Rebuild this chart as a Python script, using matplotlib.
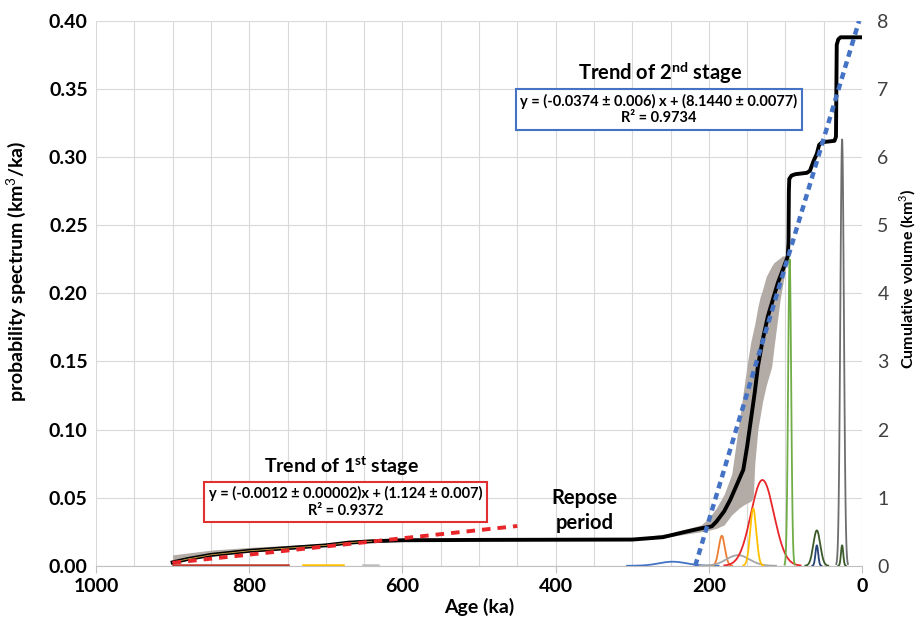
import numpy as np
import matplotlib
matplotlib.use("Agg")
import matplotlib.pyplot as plt

plt.rcParams['font.family'] = ['Lato', 'DejaVu Sans']
plt.rcParams['mathtext.fontset'] = 'custom'
plt.rcParams['mathtext.rm'] = 'Lato'
plt.rcParams['mathtext.bf'] = 'Lato:bold'

# cumulative volume curve (age ka, km3)
cum_age = [900, 880, 850, 800, 750, 700, 670, 640, 600, 500, 300, 260, 230, 210,
           200, 196, 190, 180, 172, 165, 160, 155, 150, 145, 140, 136, 130, 123,
           110, 100, 97, 96, 95.5, 95, 92, 87, 72, 68, 63, 59, 56, 52, 36, 34,
           33.5, 33, 31, 28, 0]
cum_vol = [0.05, 0.10, 0.16, 0.22, 0.26, 0.30, 0.34, 0.36, 0.375, 0.38, 0.385,
           0.42, 0.50, 0.55, 0.57, 0.58, 0.65, 0.80, 0.97, 1.15, 1.28, 1.41, 1.75,
           2.15, 2.55, 2.92, 3.30, 3.66, 4.15, 4.45, 4.54, 4.75, 5.5, 5.68, 5.73,
           5.75, 5.77, 5.80, 5.95, 6.05, 6.18, 6.22, 6.24, 6.30, 7.0, 7.65, 7.73,
           7.76, 7.76]

# uncertainty envelope of the cumulative curve
band_age = [900, 850, 800, 750, 700, 650, 620, 500, 300, 250, 210, 200, 190, 180,
            170, 165, 160, 155, 150, 145, 142, 140, 136, 133, 130, 125, 118, 115,
            107, 104, 100, 99]
band_hi = [0.16, 0.23, 0.27, 0.30, 0.33, 0.37, 0.38, 0.385, 0.40, 0.48, 0.60,
           0.70, 0.85, 1.05, 1.35, 1.75, 2.15, 2.55, 2.95, 3.30, 3.45, 3.55, 3.80,
           3.95, 4.05, 4.25, 4.40, 4.45, 4.52, 4.55, 4.55, 4.55]
band_lo = [0.04, 0.14, 0.20, 0.24, 0.29, 0.35, 0.37, 0.375, 0.38, 0.43, 0.50,
           0.52, 0.55, 0.60, 0.75, 0.80, 0.85, 0.89, 0.92, 0.95, 1.00, 1.50, 2.00,
           2.20, 2.40, 2.65, 2.92, 3.20, 3.90, 4.10, 4.35, 4.50]

# probability spectrum components (centre ka, height km3/ka, width ka)
pk_center = [247, 183, 162, 130, 142, 94.5, 59, 59, 26, 26]
pk_height = [0.003, 0.022, 0.0078, 0.063, 0.042, 0.225, 0.026, 0.015, 0.313, 0.015]
pk_width = [18, 4, 15, 15, 4, 2.0, 4.5, 1.8, 2.3, 1.5]
pk_color = ['#4472c4', '#ed7d31', '#a5a5a5', '#e8262a', '#ffc000', '#70ad47',
            '#3b5a2a', '#264478', '#6e6e6e', '#3b5a2a']

# near-zero components of the 1st stage (start ka, end ka)
flat_start = [900, 730, 652]
flat_end = [750, 677, 632]
flat_color = ['#c0392b', '#ffc000', '#bfbfbf']

# linear fits (km3 = a * age + b)
fit1_a, fit1_b = -0.0012, 1.124
fit1_age = [900, 450]
fit2_a, fit2_b = -0.0374, 8.1440

fig = plt.figure(figsize=(9.19, 6.35), dpi=100)
ax = fig.add_axes([0.1045, 0.109, 0.8335, 0.858])
ax.set_xlim(1000, 0)
ax.set_ylim(0, 0.40)

ax.set_xticks(np.arange(0, 1001, 200))
ax.set_xticks(np.arange(0, 1001, 50), minor=True)
ax.set_yticks(np.arange(0, 0.401, 0.05))
ax.grid(which='both', axis='x', color='#d9d9d9', lw=0.8)
ax.grid(which='major', axis='y', color='#d9d9d9', lw=0.8)
ax.set_axisbelow(True)
for s in ['top', 'right', 'left']:
    ax.spines[s].set_visible(False)
ax.spines['bottom'].set_color('#bfbfbf')
ax.tick_params(axis='x', which='major', length=5, color='#bfbfbf', pad=4,
               labelsize=14)
ax.tick_params(axis='x', which='minor', length=0)
ax.tick_params(axis='y', length=0, labelsize=14, pad=6)
ax.set_yticklabels(['%.2f' % v for v in np.arange(0, 0.401, 0.05)])
for lab in ax.get_xticklabels() + ax.get_yticklabels():
    lab.set_fontweight('bold')
ax.set_xlabel('Age (ka)', fontsize=14, fontweight='bold', labelpad=2)
ax.set_ylabel('probability spectrum (km$^3$/ka)', fontsize=14,
              fontweight='bold')
ax.yaxis.set_label_coords(-0.089, 0.54)

t = np.linspace(0, 1000, 8001)
for c, h, w, col in zip(pk_center, pk_height, pk_width, pk_color):
    y = h * np.exp(-0.5 * ((t - c) / w) ** 2)
    m = y > h * 0.004
    ax.plot(t[m], y[m], color=col, lw=1.3, zorder=3)
for a0, a1, col in zip(flat_start, flat_end, flat_color):
    ax.plot([a0, a1], [0.0006, 0.0006], color=col, lw=1.8, zorder=3)

ax2 = ax.twinx()
ax2.set_ylim(0, 8)
ax2.set_yticks(range(0, 9))
for s in ['top', 'right', 'left', 'bottom']:
    ax2.spines[s].set_visible(False)
ax2.tick_params(axis='y', length=0, labelsize=14, colors='#404040', pad=11)
ax2.set_ylabel('Cumulative volume (km$^3$)', fontsize=11.5, fontweight='bold')
ax2.yaxis.set_label_coords(1.046, 0.527)

ax2.fill_between(band_age, band_lo, band_hi, color='#b3aba6', lw=0, zorder=2)
ax2.plot(cum_age, cum_vol, color='black', lw=2.8, zorder=4,
         solid_joinstyle='round')
thin = [a <= 900 and a >= 620 for a in cum_age]
ax2.plot([a for a, k in zip(cum_age, thin) if k],
         [v for v, k in zip(cum_vol, thin) if k],
         color='#c9a24a', lw=0.6, zorder=5)

f1x = np.array(fit1_age)
ax2.plot(f1x, fit1_a * f1x + fit1_b, color='#e8262a', lw=2.8,
         dashes=(2.2, 1.8), zorder=6)
f2x = np.array([-fit2_b / fit2_a, (8 - fit2_b) / fit2_a])
ax2.plot(f2x, fit2_a * f2x + fit2_b, color='#4472c4', lw=3.2,
         dashes=(1.5, 1.1), zorder=6)

ax.text(0.736, 0.906, r'Trend of 2$^{\mathbf{nd}}$ stage', transform=ax.transAxes,
        ha='center', va='center', fontsize=14.5, fontweight='bold', zorder=8)
ax.text(0.735, 0.837, 'y = (-0.0374 \u00b1 0.006) x + (8.1440 \u00b1 0.0077)\nR\u00b2 = 0.9734',
        transform=ax.transAxes, ha='center', va='center', fontsize=10.5,
        fontweight='bold', linespacing=1.2, zorder=8,
        bbox=dict(boxstyle='square,pad=0.32', fc='white', ec='#4472c4', lw=1.5))
ax.text(0.320, 0.183, r'Trend of 1$^{\mathbf{st}}$ stage', transform=ax.transAxes,
        ha='center', va='center', fontsize=14, fontweight='bold', zorder=8)
ax.text(0.326, 0.117, 'y = (-0.0012 \u00b1 0.00002)x + (1.124 \u00b1 0.007)\nR\u00b2 = 0.9372',
        transform=ax.transAxes, ha='center', va='center', fontsize=10.5,
        fontweight='bold', linespacing=1.2, zorder=8,
        bbox=dict(boxstyle='square,pad=0.32', fc='white', ec='#e03030', lw=1.5))
ax.text(0.638, 0.101, 'Repose\nperiod', transform=ax.transAxes, ha='center',
        va='center', fontsize=14.5, fontweight='bold', linespacing=1.3, zorder=8)

fig.savefig('out.png', dpi=100)
